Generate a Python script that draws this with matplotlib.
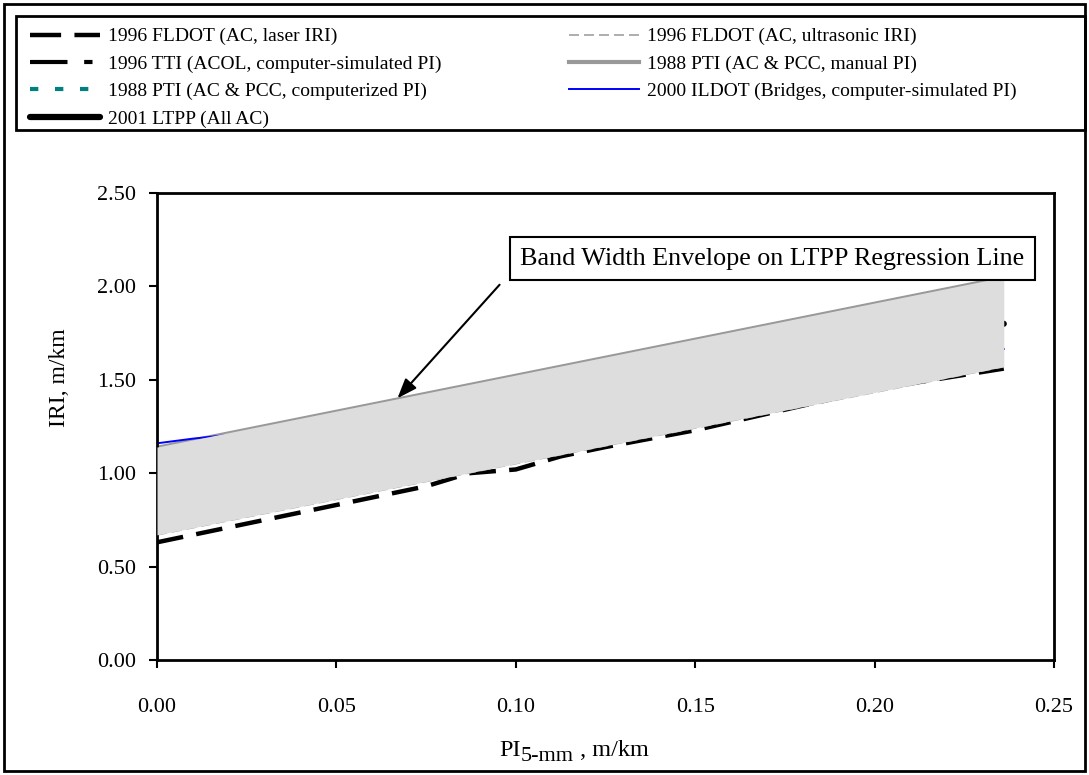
import matplotlib
matplotlib.use("Agg")
import matplotlib.pyplot as plt
from matplotlib.lines import Line2D
from matplotlib.patches import Rectangle

plt.rcParams['font.family'] = ['Liberation Serif', 'DejaVu Serif']

# Data (PI in m/km, IRI in m/km)
laser_pi = [0.0, 0.05, 0.075, 0.087, 0.10, 0.1125, 0.125, 0.15, 0.175, 0.20, 0.236]
laser_iri = [0.63, 0.83, 0.93, 1.00, 1.02, 1.09, 1.14, 1.23, 1.34, 1.45, 1.56]
ultra_pi = [0.0, 0.236]
ultra_iri = [0.67, 1.57]
tti_pi = [0.0, 0.236]
tti_iri = [0.95, 1.72]
manual_pi = [0.0, 0.236]
manual_iri = [1.14, 2.05]
comp_pi = [0.0, 0.236]
comp_iri = [0.80, 1.70]
ildot_pi = [0.0, 0.01, 0.02, 0.03, 0.10, 0.236]
ildot_iri = [1.16, 1.185, 1.205, 1.225, 1.37, 1.665]
ltpp_pi = [0.0, 0.236]
ltpp_iri = [0.90, 1.80]

# envelope
band_pi = [0.0, 0.236]
band_low = [0.67, 1.57]
band_high = [1.14, 2.05]

xticks = [0.0, 0.05, 0.10, 0.15, 0.20, 0.25]
yticks = [0.0, 0.5, 1.0, 1.5, 2.0, 2.5]

W, H = 1089, 775
fig = plt.figure(figsize=(W / 100, H / 100), dpi=100)

# outer border and legend frame (figure pixels)
def px_rect(x0, y0, x1, y1, lw):
    fig.patches.append(Rectangle((x0 / W, 1 - y1 / H), (x1 - x0) / W, (y1 - y0) / H,
                                 transform=fig.transFigure, fill=False,
                                 edgecolor='black', linewidth=lw))

px_rect(4, 4, 1085, 771, 2)
px_rect(16, 16, 1085, 130, 2)

ax = fig.add_axes([157 / W, 1 - 660 / H, (1054 - 157) / W, (660 - 193) / H])

ax.plot(laser_pi, laser_iri, color='black', lw=3.2, dashes=(6, 3), zorder=2)
ax.plot(ultra_pi, ultra_iri, color='#a0a0a0', lw=1.2, dashes=(6, 3), zorder=2)
ax.plot(tti_pi, tti_iri, color='black', lw=3, dashes=(9, 4, 2, 4), zorder=2)
ax.plot(manual_pi, manual_iri, color='#999999', lw=2, solid_capstyle='round', zorder=2)
ax.plot(comp_pi, comp_iri, color='#008080', lw=3, dashes=(2, 4), zorder=2)
ax.plot(ildot_pi, ildot_iri, color='blue', lw=1.4, zorder=2)
ax.plot(ltpp_pi, ltpp_iri, color='black', lw=4.5, solid_capstyle='round', zorder=2)
ax.fill_between(band_pi, band_low, band_high, color='#dddddd', lw=0, zorder=3)

ax.set_xlim(0, 0.25)
ax.set_ylim(0, 2.5)
ax.set_xticks(xticks)
ax.set_yticks(yticks)
ax.set_xticklabels(['%.2f' % v for v in xticks])
ax.set_yticklabels(['%.2f' % v for v in yticks])
ax.tick_params(direction='out', length=6, width=1.5, labelsize=16)
ax.tick_params(axis='x', pad=21)
ax.tick_params(axis='y', pad=9)
for s in ax.spines.values():
    s.set_linewidth(2)

ax.set_ylabel('IRI, m/km', fontsize=17)
ax.yaxis.set_label_coords(-0.097, 0.604)

# x label built from pieces so the subscript keeps a large size
r = fig.canvas.get_renderer()
parts = [('PI', 17.5, 0), ('5-mm', 16, 5), (' , m/km', 17.5, 0)]
texts = []
x = 0
for s, fs, dy in parts:
    t = fig.text(0, 1 - (756 + dy) / H, s, fontsize=fs, ha='left', va='baseline')
    w = t.get_window_extent(r).width
    texts.append((t, x))
    x += w
x0 = 574 - x / 2
for t, off in texts:
    t.set_x((x0 + off) / W)

ax.text(0.1715, 2.147, 'Band Width Envelope on LTPP Regression Line', fontsize=18.8,
        ha='center', va='center', zorder=5,
        bbox=dict(boxstyle='square,pad=0.4', fc='white', ec='black', lw=1.5))
ax.annotate('', xy=(0.0665, 1.39), xytext=(0.096, 2.02),
            arrowprops=dict(arrowstyle='-|>,head_length=1.2,head_width=0.45',
                            color='black', lw=1.5), zorder=4)

handles = [
    Line2D([], [], color='black', lw=3.2, dashes=(7, 3)),
    Line2D([], [], color='black', lw=3, dashes=(9, 4, 2, 4)),
    Line2D([], [], color='#008080', lw=3, dashes=(2, 4)),
    Line2D([], [], color='black', lw=4.5, solid_capstyle='round'),
    Line2D([], [], color='#a0a0a0', lw=1.2, dashes=(6, 3)),
    Line2D([], [], color='#999999', lw=3),
    Line2D([], [], color='blue', lw=1.4),
]
labels = [
    '1996 FLDOT (AC, laser IRI)',
    '1996 TTI (ACOL, computer-simulated PI)',
    '1988 PTI (AC & PCC, computerized PI)',
    '2001 LTPP (All AC)',
    '1996 FLDOT (AC, ultrasonic IRI)',
    '1988 PTI (AC & PCC, manual PI)',
    '2000 ILDOT (Bridges, computer-simulated PI)',
]
fig.legend(handles, labels, loc='upper left', bbox_to_anchor=(22 / W, 1 - 20 / H),
           ncol=2, frameon=False, fontsize=14, handlelength=3.6, handletextpad=0.4,
           labelspacing=0.5, columnspacing=6.6, borderaxespad=0)

fig.savefig('out.png', dpi=100)
